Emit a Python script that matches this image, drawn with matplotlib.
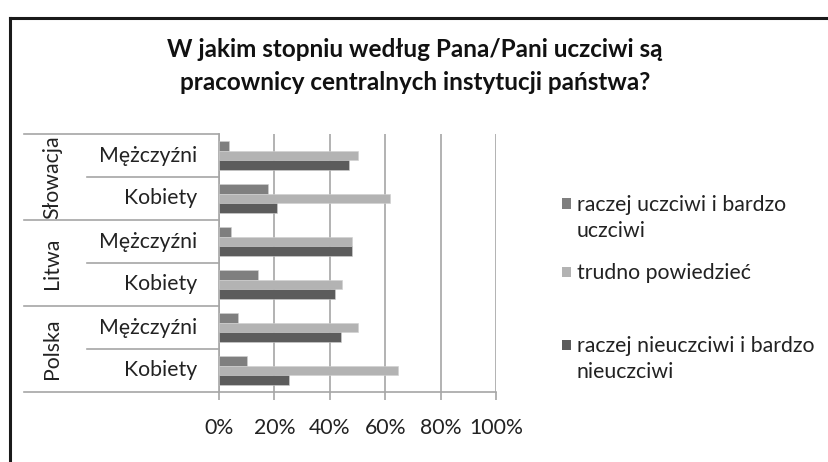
import matplotlib
matplotlib.use("Agg")
import matplotlib.pyplot as plt
from matplotlib.lines import Line2D
from matplotlib.patches import Rectangle
import numpy as np

plt.rcParams['font.family'] = ['Lato', 'DejaVu Sans']

# ---- data (bottom to top) ----
countries = ["Polska", "Litwa", "Słowacja"]
genders = ["Kobiety", "Mężczyźni"]
categories = ["Polska Kobiety", "Polska Mężczyźni", "Litwa Kobiety",
              "Litwa Mężczyźni", "Słowacja Kobiety", "Słowacja Mężczyźni"]
series_names = ["raczej uczciwi i bardzo\nuczciwi", "trudno powiedzieć",
                "raczej nieuczciwi i bardzo\nnieuczciwi"]
uczciwi = [10.2, 6.7, 14.0, 4.2, 17.8, 3.7]
trudno = [64.7, 50.3, 44.4, 48.1, 61.6, 50.3]
nieuczciwi = [25.3, 44.0, 41.9, 48.1, 20.9, 46.8]
xticks = [0, 20, 40, 60, 80, 100]
xtick_labels = ["0%", "20%", "40%", "60%", "80%", "100%"]
title = "W jakim stopniu według Pana/Pani uczciwi są\npracownicy centralnych instytucji państwa?"

colors = ["#7f7f7f", "#b3b3b3", "#5c5c5c"]
line_col = "#a6a6a6"
fs = 15.3

W, H = 829, 462
fig = plt.figure(figsize=(W / 100, H / 100), dpi=100)
ax = fig.add_axes([219 / W, 1 - 392 / H, (496 - 219) / W, (392 - 134) / H])

y = np.arange(len(categories))
bh = 0.22
for vals, off, c in zip([uczciwi, trudno, nieuczciwi], [bh, 0, -bh], colors):
    ax.barh(y + off, vals, height=bh, color=c, edgecolor="#d0d0d0", linewidth=0.4, zorder=3)

ax.set_xlim(0, 100)
ax.set_ylim(-0.5, len(categories) - 0.5)
ax.set_xticks(xticks)
ax.set_xticklabels(xtick_labels, fontsize=fs, color="#222222")
ax.set_yticks([])
ax.grid(axis="x", color=line_col, linewidth=1.2, zorder=0)
ax.tick_params(axis="x", length=6, width=1.2, color=line_col, pad=13)
for s in ["top", "right"]:
    ax.spines[s].set_visible(False)
ax.spines["left"].set_color(line_col)
ax.spines["bottom"].set_color(line_col)
ax.spines["left"].set_linewidth(1.2)
ax.spines["bottom"].set_linewidth(1.2)

tr = ax.get_yaxis_transform()
x_outer = (24 - 219) / 277
x_inner = (87 - 219) / 277
x_lab = (197 - 219) / 277
x_country = (52 - 219) / 277

for i, cat in enumerate(categories):
    g = genders[i % 2]
    ax.text(x_lab, i, g, transform=tr, ha="right", va="center", fontsize=fs, color="#222222")
for j, ctry in enumerate(countries):
    ax.text(x_country, 2 * j + 0.5, ctry, transform=tr, ha="center", va="center",
            rotation=90, fontsize=fs, color="#222222")
for yb in [-0.5, 1.5, 3.5, 5.5]:
    ax.add_line(Line2D([x_outer, 0], [yb, yb], transform=tr, color=line_col, lw=1.2, clip_on=False))
for yb in [0.5, 2.5, 4.5]:
    ax.add_line(Line2D([x_inner, 0], [yb, yb], transform=tr, color=line_col, lw=1.2, clip_on=False))

fig.text(415 / W, 1 - 66 / H, title, ha="center", va="center", fontsize=17.5,
         fontweight="bold", color="#111111", linespacing=1.55)

# legend
leg_items = [(series_names[0], 204), (series_names[1], 272), (series_names[2], 345)]
for (name, ly), c in zip(leg_items, colors):
    fig.patches.append(Rectangle((562 / W, 1 - (ly + 5) / H), 9.5 / W, 10.5 / H,
                                 transform=fig.transFigure, facecolor=c, edgecolor="none"))
    fig.text(577 / W, 1 - (ly - 9) / H, name, ha="left", va="top", fontsize=fs,
             color="#222222", linespacing=1.4)

# frame
fig.add_artist(Line2D([10 / W, 10 / W], [0, 1 - 18 / H], transform=fig.transFigure, color="#1a1a1a", lw=2.2))
fig.add_artist(Line2D([10 / W, 1], [1 - 18 / H, 1 - 18 / H], transform=fig.transFigure, color="#1a1a1a", lw=2.2))

fig.savefig("out.png", dpi=100)
